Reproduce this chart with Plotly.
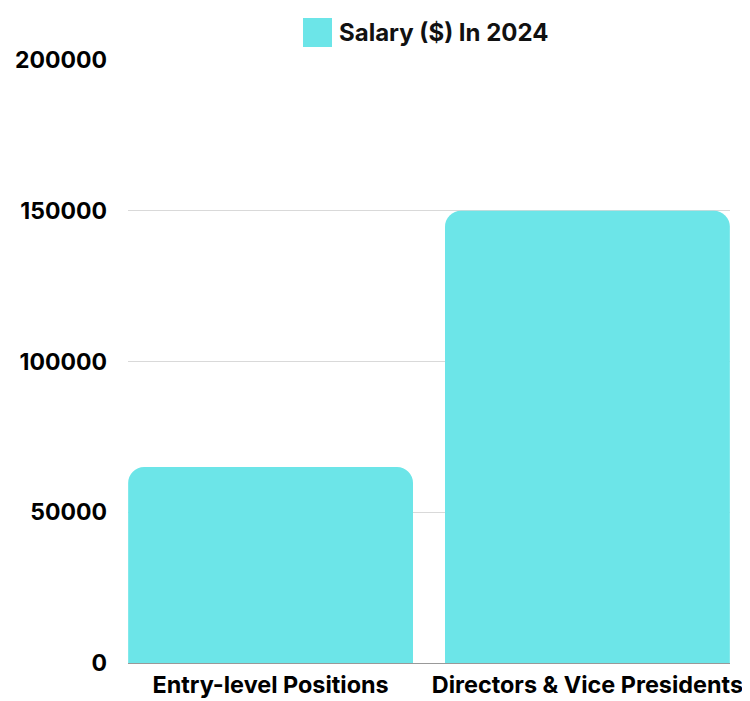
import plotly.graph_objects as go

categories = ["Entry-level Positions", "Directors & Vice Presidents"]
salary_2024 = [65000, 150000]
series_name = "Salary ($) In 2024"
y_ticks = [0, 50000, 100000, 150000, 200000]

color = "#6ce5e8"
fam = "Inter, sans-serif"

fig = go.Figure()
fig.add_trace(go.Bar(
    x=categories, y=salary_2024, name=series_name,
    marker=dict(color=color, line=dict(width=0)),
    showlegend=False,
))

# legend drawn as swatch + text (large square marker as in the reference)
fig.add_shape(type="rect", xref="paper", yref="paper",
              x0=0.2907, x1=0.3389, y0=1.0216, y1=1.0697,
              fillcolor=color, line=dict(width=0))
fig.add_annotation(text=series_name, xref="paper", yref="paper",
                   x=0.3472, y=1.0464, xanchor="left", yanchor="middle",
                   showarrow=False,
                   font=dict(family=fam, size=24, color="#111111", weight="bold"))

fig.update_layout(
    width=742, height=693,
    margin=dict(l=120, r=20, t=52, b=38, autoexpand=False),
    paper_bgcolor="white", plot_bgcolor="white",
    font=dict(family=fam, size=23, color="#000000", weight="bold"),
    bargap=0.101,
    barcornerradius=16,
    showlegend=False,
    xaxis=dict(range=[-0.45, 1.45], showgrid=False, zeroline=False, showline=False,
               ticks="", automargin=False, ticklabelstandoff=6,
               tickfont=dict(family=fam, size=23.4, color="#000000", weight="bold")),
    yaxis=dict(range=[0, 200000], tickvals=y_ticks, ticktext=[str(v) for v in y_ticks],
               showgrid=True, gridcolor="#d9d9d9", gridwidth=1,
               zeroline=True, zerolinecolor="#999999", zerolinewidth=1,
               showline=False, ticks="", ticklabelstandoff=20, automargin=False,
               tickfont=dict(family=fam, size=23, color="#000000", weight="bold")),
)

fig.write_html("out.html")
